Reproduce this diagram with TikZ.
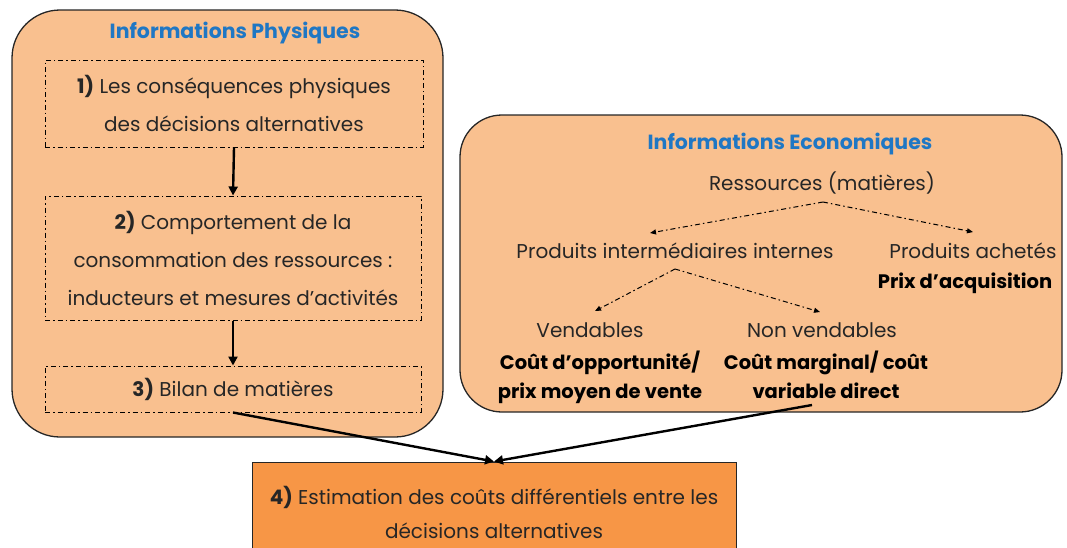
\documentclass[tikz,border=0pt]{standalone}
\usepackage{fontspec}
\setmainfont{Poppins}
\usetikzlibrary{arrows.meta}
\definecolor{lightor}{HTML}{F9C08F}
\definecolor{darkor}{HTML}{F79646}
\definecolor{titleblue}{HTML}{1F77C4}
\begin{document}
\begin{tikzpicture}[x=1pt,y=-1pt,
  bigbox/.style={draw=black!85, line width=1.3pt, fill=lightor, rounded corners=48pt, inner sep=0pt},
  ddbox/.style={draw=black, line width=1pt, dash pattern=on 5pt off 3pt on 1.5pt off 3pt, inner sep=0pt, align=center, font=\fontsize{20}{38}\selectfont, text=black!85},
  txt/.style={font=\fontsize{20}{24}\selectfont, align=center, text=black!85, inner sep=0pt},
  txtb/.style={font=\bfseries\fontsize{19.5}{29}\selectfont, align=center, text=black, inner sep=0pt},
  ttl/.style={font=\bfseries\fontsize{20.5}{24}\selectfont, text=titleblue, inner sep=0pt},
  flow/.style={-{Triangle[length=9pt,width=9pt]}, line width=2.4pt},
  dd/.style={-{Triangle[length=6pt,width=5pt]}, line width=1pt, dash pattern=on 5pt off 3pt on 1.5pt off 3pt}
]
\useasboundingbox (0,0) rectangle (1067,547);
% left big box
\node[bigbox, minimum width=431pt, minimum height=427pt] (phys) at (227.5,223.5) {};
\node[ttl] (physT) at (235,33) {Informations Physiques};
\node[ddbox, minimum width=378pt, minimum height=87pt] (b1) at (234,103.5) {\textbf{1)} Les conséquences physiques\\des décisions alternatives};
\node[ddbox, minimum width=376pt, minimum height=124pt] (b2) at (233,258) {\textbf{2)} Comportement de la\\consommation des ressources :\\inducteurs et mesures d’activités};
\node[ddbox, minimum width=376pt, minimum height=46pt] (b3) at (233,389) {\textbf{3)} Bilan de matières};
\draw[flow] (b1.south) -- (b2.north);
\draw[flow] (b2.south) -- (b3.north);
% right big box
\node[bigbox, rounded corners=42pt, minimum width=602pt, minimum height=297pt] (eco) at (761,263.5) {};
\node[ttl] (ecoT) at (790,144) {Informations Economiques};
\node[txt] (res) at (822,183) {Ressources (matières)};
\node[txt] (pii) at (675,251) {Produits intermédiaires internes};
\node[txt] (pa) at (973,251) {Produits achetés};
\node[txtb] (prix) at (965,283) {Prix d’acquisition};
\node[txt] (vend) at (590,330) {Vendables};
\node[txt] (nvend) at (822,330) {Non vendables};
\node[txtb] (cop) at (600,377) {Coût d’opportunité/\\prix moyen de vente};
\node[txtb] (cm) at (826,375) {Coût marginal/ coût\\variable direct};
\coordinate (r0) at (823,202);
\coordinate (r1) at (650,233);
\coordinate (r2) at (973,232);
\coordinate (p0) at (675,269);
\coordinate (p1) at (595,311);
\coordinate (p2) at (820,312);
\draw[dd] (r0) -- (r1);
\draw[dd] (r0) -- (r2);
\draw[dd] (p0) -- (p1);
\draw[dd] (p0) -- (p2);
% bottom box
\node[draw=black!85, line width=1pt, fill=darkor, minimum width=484pt, minimum height=100pt, inner sep=0pt, align=center, font=\fontsize{20}{34}\selectfont, text=black!85] (est) at (494,512) {\textbf{4)} Estimation des coûts différentiels entre les\\décisions alternatives};
\coordinate (cmend) at (812,405);
\draw[flow] (b3.south) -- (est.north);
\draw[flow] (cmend) -- (est.north);
\end{tikzpicture}
\end{document}
